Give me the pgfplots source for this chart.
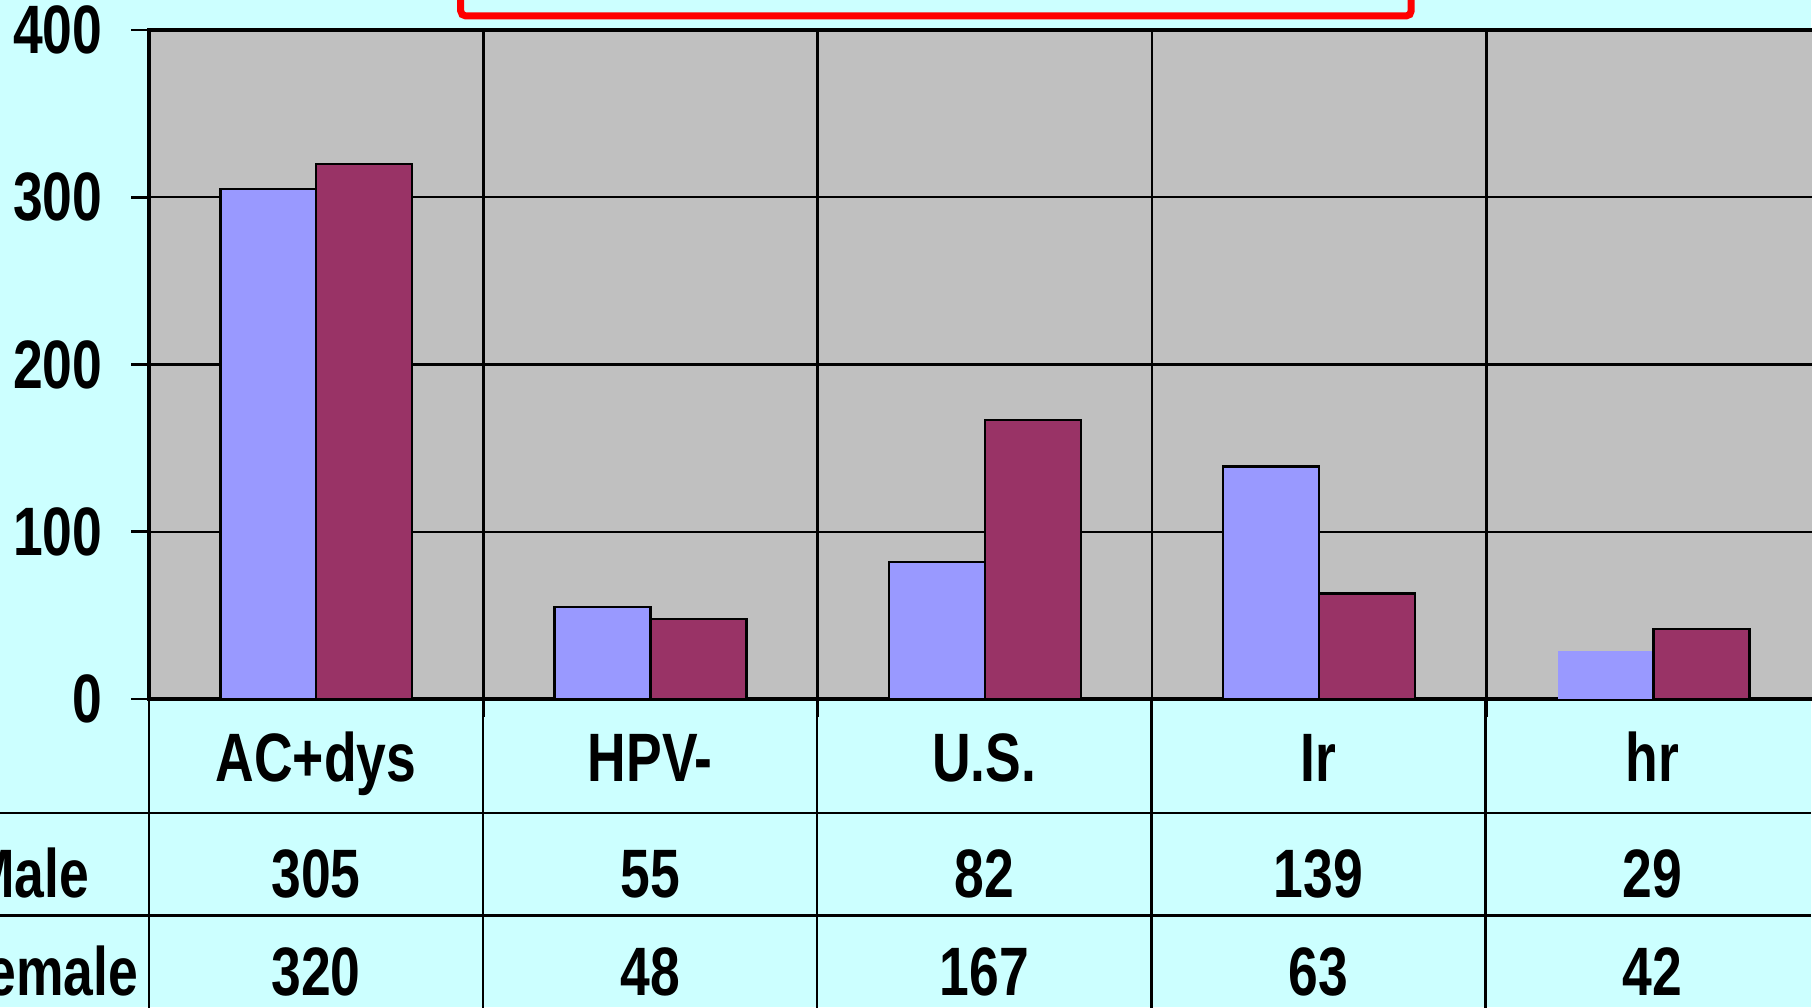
\documentclass[border=0pt]{standalone}
\usepackage{pgfplots}
\pgfplotsset{compat=1.18}
\usepackage{fontspec}
\setmainfont{Liberation Sans}[FakeStretch=0.78]
\definecolor{bg}{HTML}{CCFFFF}
\definecolor{plotgray}{HTML}{C0C0C0}
\definecolor{male}{HTML}{9999FF}
\definecolor{female}{HTML}{993366}
\newcommand{\lbl}{\bfseries\fontsize{19.5}{21}\selectfont}
\begin{document}
\begin{tikzpicture}
\useasboundingbox (0,0) rectangle (18.12cm,10.08cm);
\clip (0,0) rectangle (18.12cm,10.08cm);
% pixel grid of the reference: origin top left, y down
\begin{scope}[x=0.01cm, y=-0.01cm, yshift=10.08cm]
  \fill[bg] (0,0) rectangle (1812,1008);
  \draw[red, line width=0.07cm, rounded corners=0.05cm] (461,-60) rectangle (1412,16);
\end{scope}

\begin{axis}[
    at={(1.491cm,3.089cm)}, anchor=south west,
    scale only axis, width=16.715cm, height=6.691cm,
    xmin=-0.5, xmax=4.5, ymin=0, ymax=400,
    axis background/.style={fill=plotgray},
    xtick={0.5,1.5,2.5,3.5}, xticklabels={}, xmajorgrids,
    ytick={0,100,...,400}, ymajorgrids,
    grid style={black, line width=0.7pt},
    axis line style={black, line width=1.1pt},
    tick pos=left, tick align=outside, major tick length=0.18cm,
    tick style={black, line width=0.8pt},
    yticklabel style={font=\lbl, inner sep=0pt},
    yticklabel shift=0.28cm,
    /pgf/number format/assume math mode=true,
    bar width=0.287]
  % Male
  \addplot[ybar, fill=male, draw=black, line width=0.7pt, bar shift=-0.1435]
    coordinates {(0,305) (1,55) (2,82) (3,139)};
  \addplot[ybar, fill=male, draw=none, bar shift=-0.1435]
    coordinates {(4,29)};
  % Female
  \addplot[ybar, fill=female, draw=black, line width=0.7pt, bar shift=0.1435]
    coordinates {(0,320) (1,48) (2,167) (3,63) (4,42)};
\end{axis}

% data table under the plot
\begin{scope}[x=0.01cm, y=-0.01cm, yshift=10.08cm]
  \draw[black, line width=0.7pt] (0,813.5) -- (1812,813.5) (0,916) -- (1812,916);
  \foreach \k in {0,...,5}
    \draw[black, line width=0.7pt] ({149.1+334.3*\k},699) -- ++(0,320);
  \foreach \c/\m/\f [count=\i from 0] in {AC+dys/305/320, HPV-/55/48, U.S./82/167, Ir/139/63, hr/29/42} {
    \node[font=\lbl, anchor=base, inner sep=0pt] at ({149.1+334.3*(\i+0.5)},782) {\c};
    \node[font=\lbl, anchor=base, inner sep=0pt] at ({149.1+334.3*(\i+0.5)},898) {\m};
    \node[font=\lbl, anchor=base, inner sep=0pt] at ({149.1+334.3*(\i+0.5)},996) {\f};
  }
  \node[font=\lbl, anchor=base east, inner sep=0pt] at (90,898) {Male};
  \node[font=\lbl, anchor=base east, inner sep=0pt] at (139,996) {Female};
\end{scope}
\end{tikzpicture}
\end{document}
